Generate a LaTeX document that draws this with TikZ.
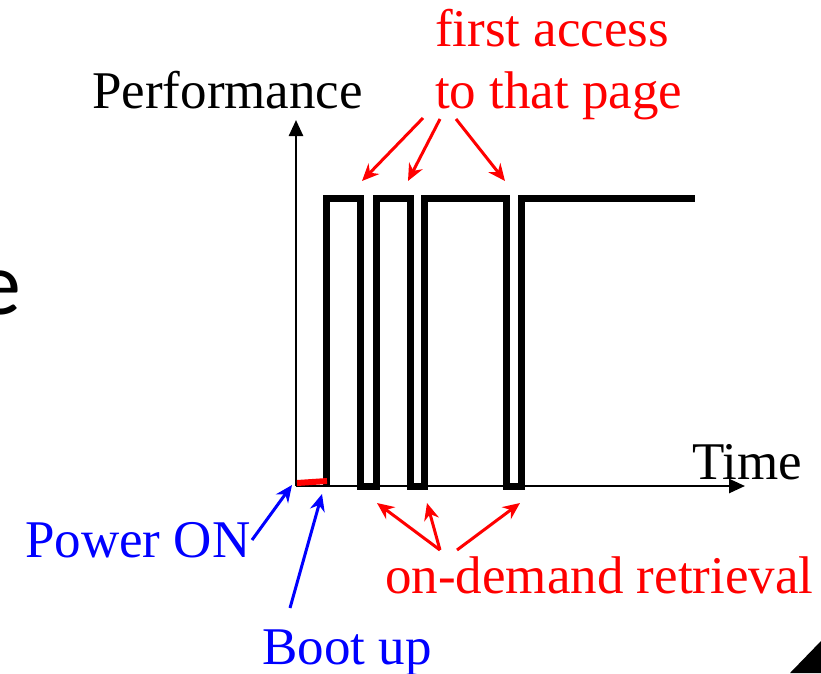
\documentclass[tikz,border=0pt]{standalone}
\usepackage{fontspec}
\setmainfont{Liberation Serif}
\newfontfamily\calibrifont{Carlito}
\usetikzlibrary{arrows.meta}
\tikzset{
  lbl/.style={anchor=base west,inner sep=0pt,font=\fontsize{53}{60}\selectfont},
  axis/.style={line width=2.5pt,-{Triangle[length=16pt,width=14pt]}},
  wave/.style={line width=7pt,line join=miter},
  redarr/.style={draw=red,line width=3pt,-{Stealth[length=17pt,width=15pt]}},
  bluearr/.style={draw=blue,line width=3pt,-{Stealth[length=17pt,width=15pt]}}
}
\begin{document}
\begin{tikzpicture}[x=1pt,y=-1pt]
\useasboundingbox (0,0) rectangle (821,673);
\clip (0,0) rectangle (821,673);
% cut-off letter at left edge
\node[anchor=base west,inner sep=0pt,font=\calibrifont\fontsize{90}{100}\selectfont] (e) at (-24,314) {e};
% axes
\coordinate (O) at (296,486);
\coordinate (ytip) at (296,120);
\coordinate (xtip) at (745,486);
\draw[axis] (O) -- (ytip);
\draw[axis] (O) -- (xtip);
% waveform
\draw[wave] (326,486) -- (326,198) -- (360,198) -- (360,486) -- (376,486) -- (376,198)
  -- (410,198) -- (410,486) -- (424,486) -- (424,198) -- (506,198) -- (506,486)
  -- (521,486) -- (521,198) -- (695,198);
% boot segment
\draw[red,line width=6pt] (297,483) -- (327,481);
% labels
\node[lbl] (perf) at (92,108) {Performance};
\node[lbl,text=red] (first) at (435,46) {first access};
\node[lbl,text=red] (tothat) at (435,108) {to that page};
\node[lbl] (time) at (692,479) {Time};
\node[lbl,text=blue] (power) at (25,557) {Power ON};
\node[lbl,text=blue] (boot) at (262,664) {Boot up};
\node[lbl,text=red] (ondemand) at (385,593) {on-demand retrieval};
% red arrows (top)
\coordinate (t1s) at (423,118); \coordinate (t1e) at (362,181);
\coordinate (t2s) at (440,119); \coordinate (t2e) at (408,181);
\coordinate (t3s) at (456,119); \coordinate (t3e) at (505,181);
\draw[redarr] (t1s) -- (t1e);
\draw[redarr] (t2s) -- (t2e);
\draw[redarr] (t3s) -- (t3e);
% red arrows (bottom)
\coordinate (b1s) at (440,550); \coordinate (b1e) at (377,503);
\coordinate (b2s) at (440,550); \coordinate (b2e) at (427,503);
\coordinate (b3s) at (457,550); \coordinate (b3e) at (520,503);
\draw[redarr] (b1s) -- (b1e);
\draw[redarr] (b2s) -- (b2e);
\draw[redarr] (b3s) -- (b3e);
% blue arrows
\coordinate (p1s) at (252,540); \coordinate (p1e) at (292,485);
\coordinate (p2s) at (290,608); \coordinate (p2e) at (322,494);
\draw[bluearr] (p1s) -- (p1e);
\draw[bluearr] (p2s) -- (p2e);
% corner triangle
\fill (790,673) -- (821,641) -- (821,673) -- cycle;
\end{tikzpicture}
\end{document}
